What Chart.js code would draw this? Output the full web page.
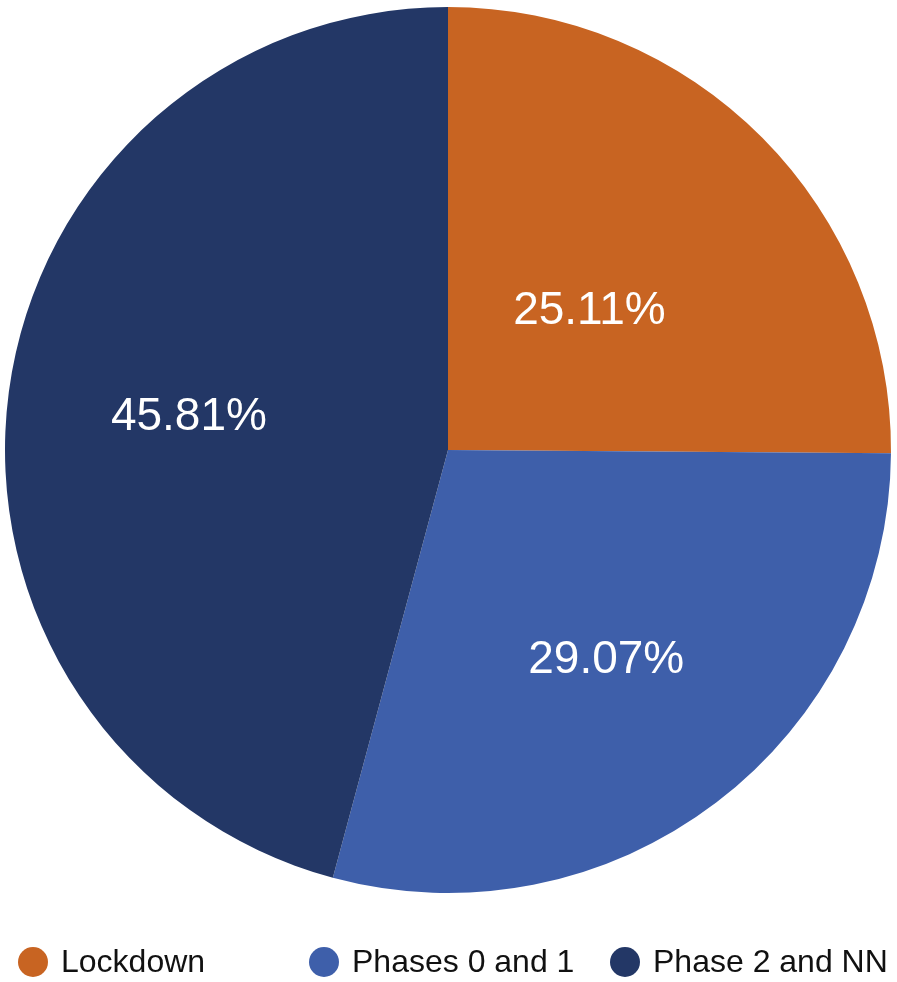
<!DOCTYPE html>
<html>
<head>
<meta charset="utf-8">
<script src="https://cdn.jsdelivr.net/npm/chart.js@4"></script>
<style>
  html, body { margin: 0; padding: 0; background: #fff; }
  #wrap { width: 897px; height: 982px; }
</style>
</head>
<body>
<div id="wrap"><canvas id="chart" width="897" height="982"></canvas></div>
<script>
const periods = ['Lockdown', 'Phases 0 and 1', 'Phase 2 and NN'];
const shares = [25.11, 29.07, 45.81];
const sliceColors = ['#C86422', '#3E5FAA', '#233766'];

// label distance from centre, as a fraction of the radius
const labelRadius = [0.45, 0.59, 0.59];
// legend item x (circle centre), text starts a bit to the right
const legendX = [33, 324, 625];

const sliceLabels = {
    id: 'sliceLabels',
    afterDatasetsDraw(chart) {
        const ctx = chart.ctx;
        const meta = chart.getDatasetMeta(0);
        ctx.save();
        ctx.fillStyle = '#fff';
        ctx.font = '46px "Liberation Sans", Arial, sans-serif';
        ctx.textAlign = 'center';
        ctx.textBaseline = 'middle';
        meta.data.forEach((arc, i) => {
            const mid = (arc.startAngle + arc.endAngle) / 2;
            const r = arc.outerRadius * labelRadius[i];
            const x = arc.x + Math.cos(mid) * r;
            const y = arc.y + Math.sin(mid) * r;
            ctx.fillText(shares[i].toFixed(2) + '%', x, y + 2);
        });
        ctx.restore();
    }
};

const bottomLegend = {
    id: 'bottomLegend',
    afterDraw(chart) {
        const ctx = chart.ctx;
        const y = 962;
        ctx.save();
        ctx.font = '32px "Liberation Sans", Arial, sans-serif';
        ctx.textBaseline = 'middle';
        ctx.textAlign = 'left';
        periods.forEach((name, i) => {
            ctx.fillStyle = sliceColors[i];
            ctx.beginPath();
            ctx.arc(legendX[i], y, 15, 0, Math.PI * 2);
            ctx.fill();
            ctx.fillStyle = '#111';
            ctx.fillText(name, legendX[i] + 28, y + 1);
        });
        ctx.restore();
    }
};

new Chart(document.getElementById('chart'), {
    type: 'pie',
    data: {
        labels: periods,
        datasets: [{
            data: shares,
            backgroundColor: sliceColors,
            borderWidth: 0
        }]
    },
    options: {
        responsive: false,
        animation: false,
        layout: {
            padding: { left: 5, right: 6, top: 7, bottom: 89 }
        },
        plugins: {
            legend: { display: false },
            tooltip: { enabled: false }
        }
    },
    plugins: [sliceLabels, bottomLegend]
});
</script>
</body>
</html>
